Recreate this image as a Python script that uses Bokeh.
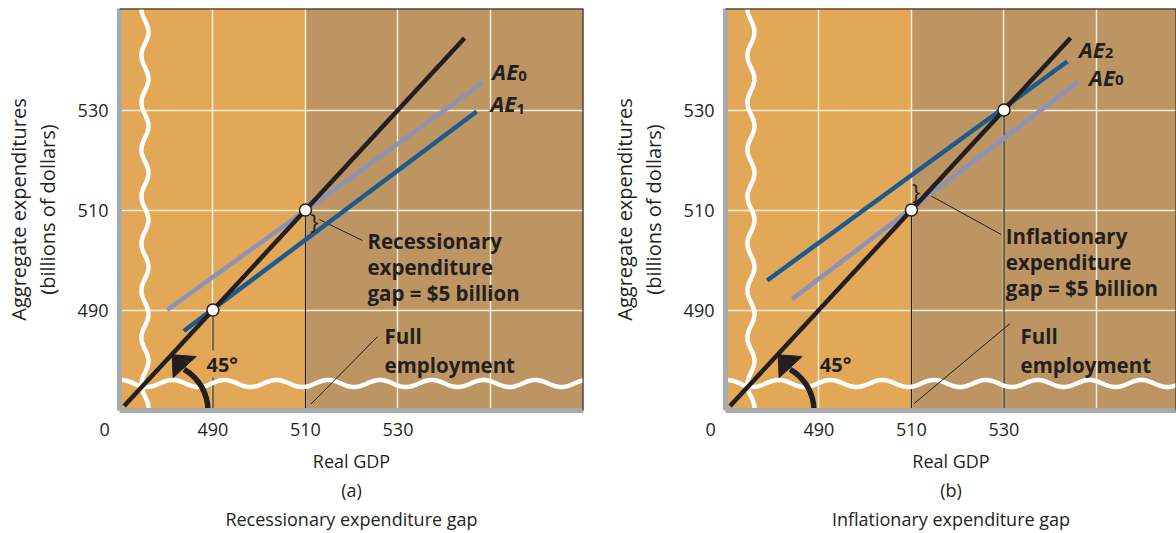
import numpy as np
from bokeh.plotting import figure
from bokeh.layouts import row
from bokeh.models import FixedTicker, Label, Span
from bokeh.core.properties import value
from bokeh.embed import file_html
from bokeh.resources import INLINE

FONT = "Open Sans"
DARK = "#231F20"
ORANGE = "#E3A857"
TAN = "#BC9562"
GRID_COLOR = "#F7EDDB"
AXIS_GRAY = "#A7A9AC"
LIGHT = "#8C93B7"
BLUE = "#1D5B8E"

# ---------------- data ----------------
X_TICKS = [490, 510, 530]
Y_TICKS = [490, 510, 530]
GRID_X = [490, 510, 530, 550]
GRID_Y = [490, 510, 530]
ORIGIN_LABEL = "0\u2003\u2002\u2009"   # origin "0", padded so it sits left of the corner
FULL_EMPLOYMENT = 510

Y_RANGE = (469.9, 550.3)
X_RANGE_A = (469.8, 570.1)
X_RANGE_B = (469.8, 567.3)

# 45-degree line (Y = AE)
LINE45_X = [470.8, 544.4]
LINE45_Y = [470.8, 544.4]

# panel (a) recessionary gap
A_AE0_X = [480.1, 548.2]
A_AE0_Y = [490.0, 535.4]
A_AE1_X = [483.7, 547.0]
A_AE1_Y = [485.8, 529.7]
A_EQ_X = [490, 510]
A_EQ_Y = [490, 510]

# panel (b) inflationary gap
B_AE0_X = [484.25, 546.15]
B_AE0_Y = [492.2, 535.7]
B_AE2_X = [478.8, 543.7]
B_AE2_Y = [495.9, 539.7]
B_EQ_X = [510, 530]
B_EQ_Y = [510, 530]

# ---------------- annotation placement ----------------
A_GAP_TEXT = ["Recessionary", "expenditure", "gap = $5 billion"]
A_GAP_X = 523.4
A_GAP_Y = [503.8, 498.7, 493.4]
A_BRACE = (511.9, 507.9)
A_GAP_LEADER = (513.0, 508.1, 522.3, 503.9)
A_FULL_X = 527.1
A_FULL_Y = [484.9, 479.1]
A_FULL_LEADER = (525.6, 484.7, 511.2, 471.2)
A_AE_SUBS = ["0", "1"]
A_AE_X = [550.4, 550.0]
A_AE_Y = [537.9, 531.5]
A_SUB_X = [556.0, 555.6]
A_SUB_Y = [536.9, 530.3]
A_ANGLE_X = 488.6

B_GAP_TEXT = ["Inflationary", "expenditure", "gap = $5 billion"]
B_GAP_X = 530.4
B_GAP_Y = [504.9, 499.7, 494.5]
B_BRACE = (511.0, 513.9)
B_GAP_LEADER = (513.5, 513.2, 529.4, 505.1)
B_FULL_X = 533.6
B_FULL_Y = [484.9, 479.1]
B_FULL_LEADER = (531.3, 487.3, 510.6, 471.3)
B_AE_SUBS = ["2", "0"]
B_AE_X = [546.2, 548.4]
B_AE_Y = [542.3, 536.7]
B_SUB_X = [551.8, 554.0]
B_SUB_Y = [541.5, 536.0]
B_ANGLE_X = 490.2

ANGLE_Y = 479.2
ARC_CENTER = (478.65, 469.9)
ARC_RADIUS_PX = 47.5
ARC_END = 1.05
ARROW_X = [481.18, 481.40, 486.38]
ARROW_Y = [481.04, 476.44, 480.7]
WAVE_POS = 475.3
WAVE_AMP_X, WAVE_AMP_Y = 0.76, 0.7
WAVE_PERIOD_X, WAVE_PERIOD_Y = 11.2, 9.4
WAVE_CREST_X = 548.5


def make_panel(xr, frame_w, mbr, lines, eq_x, eq_y, gap_text, gap_x, gap_y, brace,
               gap_leader, full_x, full_y, full_leader, ae_x, ae_y, subs, sub_x, sub_y,
               angle_x, letter, subtitle):
    p = figure(frame_width=frame_w, frame_height=402, x_range=xr, y_range=Y_RANGE,
               min_border_left=119, min_border_right=mbr, min_border_top=8,
               min_border_bottom=123, output_backend="svg", toolbar_location=None,
               background_fill_color=TAN, border_fill_color="white",
               outline_line_color=None)

    # background regions
    p.quad(left=[xr[0]], right=[FULL_EMPLOYMENT], bottom=[Y_RANGE[0]], top=[Y_RANGE[1]],
           fill_color=ORANGE, line_color=None, level="image")

    # grid
    p.xgrid.ticker = FixedTicker(ticks=GRID_X)
    p.ygrid.ticker = FixedTicker(ticks=GRID_Y)
    for g in (p.xgrid[0], p.ygrid[0]):
        g.grid_line_color = GRID_COLOR
        g.grid_line_width = 1.5

    # axes
    origin_tick = xr[0] + 0.01
    p.xaxis.ticker = FixedTicker(ticks=[origin_tick] + X_TICKS)
    p.xaxis.major_label_overrides = {origin_tick: ORIGIN_LABEL}
    p.yaxis.ticker = FixedTicker(ticks=Y_TICKS)
    for ax in (p.xaxis[0], p.yaxis[0]):
        ax.axis_line_color = AXIS_GRAY
        ax.axis_line_width = 5
        ax.major_tick_line_color = None
        ax.minor_tick_line_color = None
        ax.major_tick_out = 0
        ax.major_tick_in = 0
        ax.major_label_text_font = FONT
        ax.major_label_text_font_size = "18px"
        ax.major_label_text_color = DARK
        ax.axis_label_text_font = FONT
        ax.axis_label_text_font_style = "normal"
        ax.axis_label_text_font_size = "18px"
        ax.axis_label_text_color = DARK
    p.xaxis.major_label_standoff = 6
    p.yaxis.major_label_standoff = 11
    p.xaxis.axis_label = "Real GDP\n" + letter + "\n" + subtitle
    p.xaxis.axis_label_standoff = 5
    p.xaxis.axis_label_text_line_height = 1.22
    p.yaxis.axis_label = "Aggregate expenditures\n(billions of dollars)"
    p.yaxis.axis_label_text_font_size = "20px"
    p.yaxis.axis_label_standoff = 14
    p.yaxis.axis_label_text_line_height = 1.05

    # frame edges
    p.add_layout(Span(location=Y_RANGE[1], dimension="width", line_color=DARK, line_width=2))
    p.add_layout(Span(location=xr[1], dimension="height", line_color=DARK, line_width=2))

    # drop lines
    p.segment(x0=eq_x, y0=eq_y, x1=eq_x, y1=[Y_RANGE[0]] * len(eq_x),
              line_color=DARK, line_width=1.2)

    # axis-break waves
    yy = np.linspace(Y_RANGE[0], Y_RANGE[1], 500)
    xx = WAVE_POS - WAVE_AMP_X * np.cos(2 * np.pi * (Y_RANGE[1] - yy) / WAVE_PERIOD_Y)
    p.line(xx, yy, line_color="white", line_width=4.5)
    xx2 = np.linspace(xr[0], xr[1], 600)
    yy2 = WAVE_POS + WAVE_AMP_Y * np.cos(2 * np.pi * (xx2 - WAVE_CREST_X) / WAVE_PERIOD_X)
    p.line(xx2, yy2, line_color="white", line_width=4.5)

    # leaders
    p.segment(x0=[gap_leader[0], full_leader[0]], y0=[gap_leader[1], full_leader[1]],
              x1=[gap_leader[2], full_leader[2]], y1=[gap_leader[3], full_leader[3]],
              line_color=DARK, line_width=1)

    # AE lines and 45 line
    for (lx, ly, col) in lines:
        p.line(lx, ly, line_color=col, line_width=4.5)
    p.line(LINE45_X, LINE45_Y, line_color=DARK, line_width=4.5)

    # equilibrium points
    p.scatter(eq_x, eq_y, marker="circle", size=12, fill_color="white",
              line_color=DARK, line_width=1.5)

    # 45 degree arrow
    p.arc(x=[ARC_CENTER[0]], y=[ARC_CENTER[1]], radius=ARC_RADIUS_PX, radius_units="screen",
          start_angle=0, end_angle=ARC_END, line_color=DARK, line_width=5.5)
    p.patch(ARROW_X, ARROW_Y, fill_color=DARK, line_color=DARK, line_width=1)
    p.add_layout(Label(x=angle_x, y=ANGLE_Y, text="45°", text_font=FONT,
                       text_font_style="bold", text_font_size="20px", text_color=DARK,
                       text_baseline="alphabetic", background_fill_color=ORANGE))

    # brace
    p.text(x=[brace[0]], y=[brace[1]], text=["}"], text_font=value(FONT),
           text_font_size="22px", text_color=DARK, text_align="center",
           text_baseline="middle")

    # gap & full employment labels
    p.text(x=[gap_x] * len(gap_text) + [full_x] * 2, y=list(gap_y) + list(full_y),
           text=list(gap_text) + ["Full", "employment"], text_font=value(FONT),
           text_font_style="bold", text_font_size="20.5px", text_color=DARK,
           text_align="left", text_baseline="alphabetic")

    # AE labels
    p.text(x=ae_x, y=ae_y, text=["AE"] * len(ae_x), text_font=value(FONT),
           text_font_style="bold italic", text_font_size="22px", text_color=DARK,
           text_align="left", text_baseline="alphabetic")
    p.text(x=sub_x, y=sub_y, text=subs, text_font=value(FONT),
           text_font_style="bold", text_font_size="15px", text_color=DARK,
           text_align="left", text_baseline="alphabetic")
    return p


pa = make_panel(X_RANGE_A, 464, 23,
                [(A_AE0_X, A_AE0_Y, LIGHT), (A_AE1_X, A_AE1_Y, BLUE)],
                A_EQ_X, A_EQ_Y, A_GAP_TEXT, A_GAP_X, A_GAP_Y, A_BRACE, A_GAP_LEADER,
                A_FULL_X, A_FULL_Y, A_FULL_LEADER, A_AE_X, A_AE_Y, A_AE_SUBS,
                A_SUB_X, A_SUB_Y, A_ANGLE_X, "(a)", "Recessionary expenditure gap")
pb = make_panel(X_RANGE_B, 451, 0,
                [(B_AE0_X, B_AE0_Y, LIGHT), (B_AE2_X, B_AE2_Y, BLUE)],
                B_EQ_X, B_EQ_Y, B_GAP_TEXT, B_GAP_X, B_GAP_Y, B_BRACE, B_GAP_LEADER,
                B_FULL_X, B_FULL_Y, B_FULL_LEADER, B_AE_X, B_AE_Y, B_AE_SUBS,
                B_SUB_X, B_SUB_Y, B_ANGLE_X, "(b)", "Inflationary expenditure gap")

layout = row(pa, pb)
open("out.html", "w").write(file_html(layout, INLINE))
